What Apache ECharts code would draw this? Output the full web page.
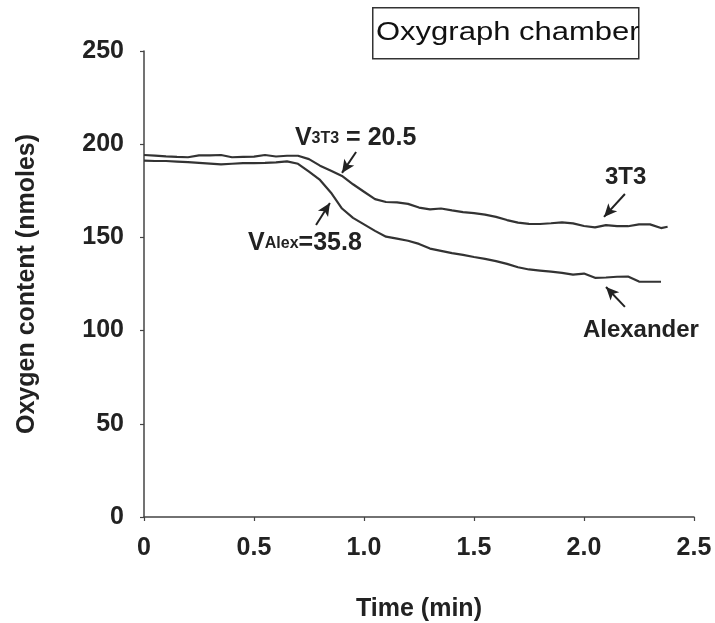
<!DOCTYPE html>
<html>
<head>
<meta charset="utf-8">
<script src="https://cdn.jsdelivr.net/npm/echarts@6/dist/echarts.min.js"></script>
<style>html,body{margin:0;padding:0;background:#fff;}#c{width:715px;height:623px;}</style>
</head>
<body>
<div id="c"></div>
<script>
// ---- data ----
const time3T3 = [0,0.05,0.10,0.15,0.20,0.25,0.30,0.35,0.40,0.45,0.50,0.55,0.60,0.65,0.70,0.75,0.80,0.85,0.90,0.95,1.00,1.05,1.10,1.15,1.20,1.25,1.30,1.35,1.40,1.45,1.50,1.55,1.60,1.65,1.70,1.75,1.80,1.85,1.90,1.95,2.00,2.05,2.10,2.15,2.20,2.25,2.30,2.35,2.38];
const o2_3T3 = [194.2,193.9,193.5,193.2,193.0,194.0,194.0,194.2,193.0,193.2,193.3,194.2,193.4,193.8,193.8,192.0,188.5,185.8,183.0,178.5,174.5,170.5,169.0,168.8,168.0,166.0,165.0,165.5,164.5,163.6,163.0,162.2,161.0,159.3,157.9,157.3,157.2,157.6,158.1,157.5,156.1,155.4,156.6,156.0,156.0,157.0,157.0,155.0,155.7];
const timeAlex = [0,0.05,0.10,0.15,0.20,0.25,0.30,0.35,0.40,0.45,0.50,0.55,0.60,0.65,0.70,0.75,0.80,0.85,0.90,0.95,1.00,1.05,1.10,1.15,1.20,1.25,1.30,1.35,1.40,1.45,1.50,1.55,1.60,1.65,1.70,1.75,1.80,1.85,1.90,1.95,2.00,2.05,2.10,2.15,2.20,2.25,2.30,2.35];
const o2_Alex = [191.2,191.0,191.0,190.7,190.4,190.0,189.6,189.2,189.5,189.8,189.9,190.0,190.2,190.8,189.5,185.3,180.8,174.0,165.5,160.5,157.0,153.5,150.4,149.3,148.2,146.5,144.0,142.8,141.6,140.6,139.5,138.5,137.3,135.8,134.0,132.8,132.2,131.6,131.0,130.0,130.6,128.3,128.5,128.9,129.0,126.3,126.2,126.2];
const xTicks = [0,0.5,1.0,1.5,2.0,2.5];
const yTicks = [0,50,100,150,200,250];
const seriesNames = ['3T3','Alexander'];
const rate3T3 = '20.5';
const rateAlex = '35.8';

// annotation anchors in data coords
const arrows = [
  [[0.964,195.8],[0.900,184.6]],
  [[0.782,156.7],[0.845,168.5]],
  [[2.186,173.3],[2.091,161.0]],
  [[2.186,112.7],[2.100,123.4]]
];
const labelAnchors = {
  v3t3: [0.686,203.9],
  valex: [0.473,147.5],
  n3t3: [2.095,182.4],
  nalex: [1.995,100.3]
};

const FONT = '"Liberation Sans", Arial, sans-serif';
const INK = '#222';

const chart = echarts.init(document.getElementById('c'), null, {renderer:'canvas'});
const pair = (ts, vs) => ts.map((t,i)=>[t,vs[i]]);

chart.setOption({
  animation:false,
  backgroundColor:'#fff',
  grid:{left:144,right:21,top:51,bottom:106,containLabel:false,outerBoundsMode:'none'},
  xAxis:{
    type:'value',min:xTicks[0],max:xTicks[xTicks.length-1],interval:0.5,
    name:'Time (min)',nameLocation:'middle',nameGap:80,
    nameTextStyle:{fontFamily:FONT,fontWeight:'bold',fontSize:25,color:INK},
    axisLine:{lineStyle:{color:'#444',width:1.5}},
    axisTick:{show:true,length:4,lineStyle:{color:'#444',width:1.2}},
    axisLabel:{fontFamily:FONT,fontWeight:'bold',fontSize:25,color:INK,margin:19,
      formatter:v=> v===0?'0':v.toFixed(1)},
    splitLine:{show:false}
  },
  yAxis:{
    type:'value',min:yTicks[0],max:yTicks[yTicks.length-1],interval:50,
    name:'Oxygen content (nmoles)',nameLocation:'middle',nameGap:104,nameRotate:90,
    nameTextStyle:{fontFamily:FONT,fontWeight:'bold',fontSize:25,color:INK},
    axisLine:{show:true,lineStyle:{color:'#444',width:1.5}},
    axisTick:{show:true,length:4,lineStyle:{color:'#444',width:1.2}},
    axisLabel:{fontFamily:FONT,fontWeight:'bold',fontSize:25,color:INK,margin:20},
    splitLine:{show:false}
  },
  series:[
    {name:seriesNames[0],type:'line',data:pair(time3T3,o2_3T3),symbol:'none',
     lineStyle:{color:'#333',width:2.2},
     markLine:{silent:true,animation:false,symbolSize:[9,13],label:{show:false},
       lineStyle:{color:'#222',width:2,type:'solid'},
       data:arrows.map(a=>[{coord:a[0],symbol:'none'},{coord:a[1],symbol:'arrow'}])}
    },
    {name:seriesNames[1],type:'line',data:pair(timeAlex,o2_Alex),symbol:'none',
     lineStyle:{color:'#333',width:2.2}}
  ]
});

function px(p){return chart.convertToPixel({gridIndex:0},p);}
const a1=px(labelAnchors.v3t3), a2=px(labelAnchors.valex), a3=px(labelAnchors.n3t3), a4=px(labelAnchors.nalex);
const rich = {
  b:{fontFamily:FONT,fontWeight:'bold',fontSize:25,fill:INK,lineHeight:28,verticalAlign:'bottom'},
  s:{fontFamily:FONT,fontWeight:'bold',fontSize:16,fill:INK,lineHeight:28,verticalAlign:'bottom',padding:[0,0,4,0]}
};
chart.setOption({
  graphic:[
    {type:'rect',left:372,top:7,shape:{width:266,height:51},style:{fill:'#fff',stroke:'#333',lineWidth:1.5}},
    {type:'text',x:376,y:33,scaleX:1.24,style:{text:'Oxygraph chamber',font:'25px '+FONT,fill:'#111',textVerticalAlign:'middle',textAlign:'left'}},
    {type:'text',x:a1[0],y:a1[1],style:{text:'{b|V}{s|3T3}{b| = '+rate3T3+'}',rich:rich,textVerticalAlign:'middle',textAlign:'left'}},
    {type:'text',x:a2[0],y:a2[1],style:{text:'{b|V}{s|Alex}{b|='+rateAlex+'}',rich:rich,textVerticalAlign:'middle',textAlign:'left'}},
    {type:'text',x:a3[0],y:a3[1],style:{text:seriesNames[0],font:'bold 24px '+FONT,fill:INK,textVerticalAlign:'middle',textAlign:'left'}},
    {type:'text',x:a4[0],y:a4[1],style:{text:seriesNames[1],font:'bold 24px '+FONT,fill:INK,textVerticalAlign:'middle',textAlign:'left'}}
  ]
});
</script>
</body>
</html>
